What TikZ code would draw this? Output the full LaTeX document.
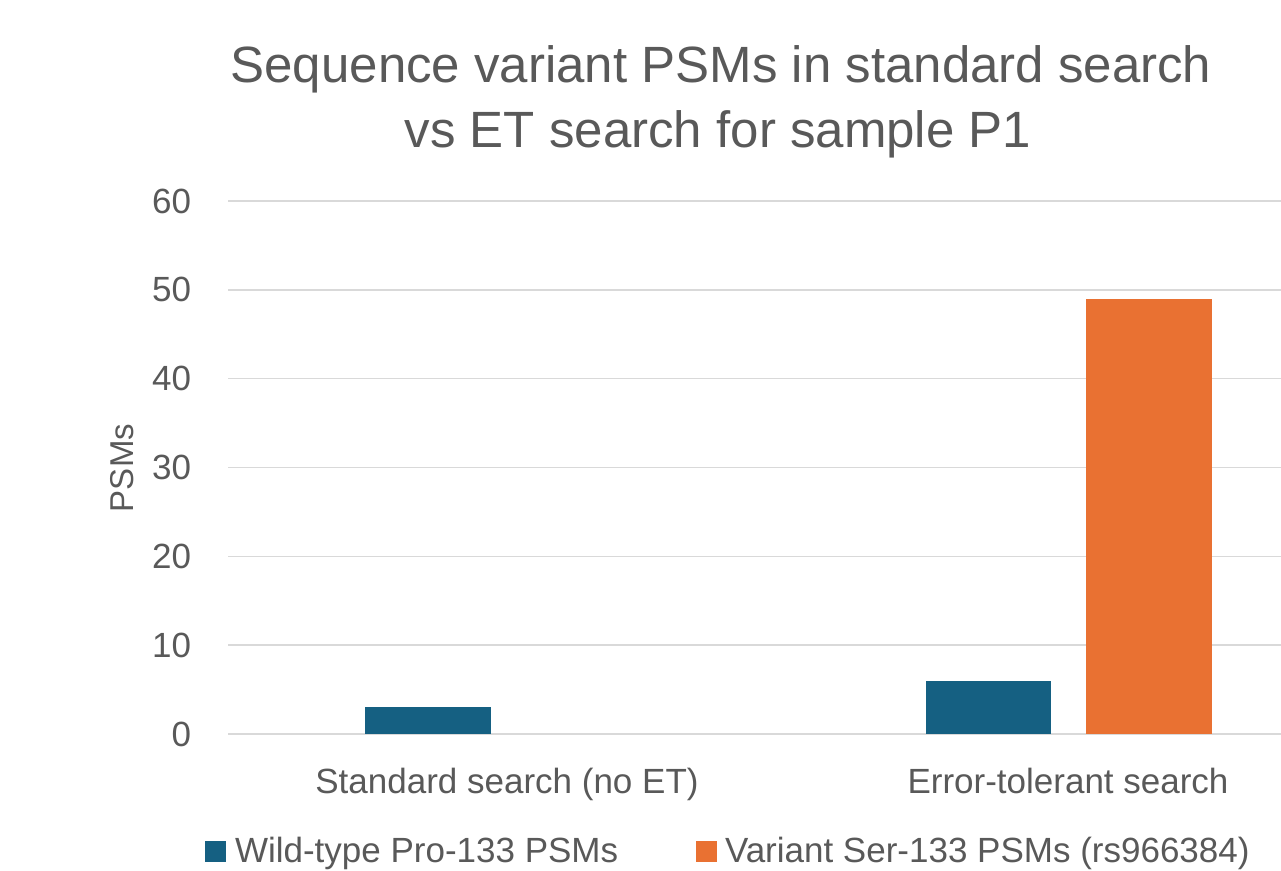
\documentclass[tikz,border=0pt]{standalone}
\usepackage{fontspec}
\setmainfont{Liberation Sans}
\definecolor{txtgray}{HTML}{595959}
\definecolor{gridgray}{HTML}{D9D9D9}
\definecolor{wtblue}{HTML}{156082}
\definecolor{varorange}{HTML}{E97132}
\tikzset{
  lbl/.style={inner sep=0pt, outer sep=0pt, text=txtgray, font=\fontsize{35}{42}\selectfont},
  ttl/.style={inner sep=0pt, outer sep=0pt, text=txtgray, font=\fontsize{51}{60}\selectfont},
  gridline/.style={draw=gridgray, line width=1.6pt},
}
\begin{document}
\begin{tikzpicture}[x=1pt,y=-1pt]
\useasboundingbox[fill=white] (0,0) rectangle (1281,870);
% gridlines
\foreach \v/\n in {0/g0,10/g1,20/g2,30/g3,40/g4,50/g5,60/g6}{
  \coordinate (\n a) at (228,{734-\v*8.883});
  \coordinate (\n b) at (1281,{734-\v*8.883});
  \draw[gridline] (\n a) -- (\n b);
  \node[lbl, anchor=east] (t\n) at (191,{734-\v*8.883}) {\v};
}
% bars
\fill[wtblue] (365,734) rectangle (491,{734-3*8.883});
\fill[wtblue] (926,734) rectangle (1051,{734-6*8.883});
\fill[varorange] (1086,734) rectangle (1212,{734-49*8.883});
% title
\node[ttl, anchor=base] (title1) at (721,82) {Sequence variant PSMs in standard search};
\node[ttl, anchor=base] (title2) at (718,147) {vs ET search for sample P1};
% axis title
\node[lbl, rotate=90, font=\fontsize{33}{40}\selectfont] (ytitle) at (122,468) {PSMs};
% categories
\node[lbl, anchor=base] (cat1) at (507,793) {Standard search (no ET)};
\node[lbl, anchor=base] (cat2) at (1068,793) {Error-tolerant search};
% legend
\fill[wtblue] (205,841) rectangle (226,862);
\node[lbl, anchor=base west] (leg1) at (235,862) {Wild-type Pro-133 PSMs};
\fill[varorange] (696,841) rectangle (717,862);
\node[lbl, anchor=base west] (leg2) at (725,862) {Variant Ser-133 PSMs (rs966384)};
\end{tikzpicture}
\end{document}
